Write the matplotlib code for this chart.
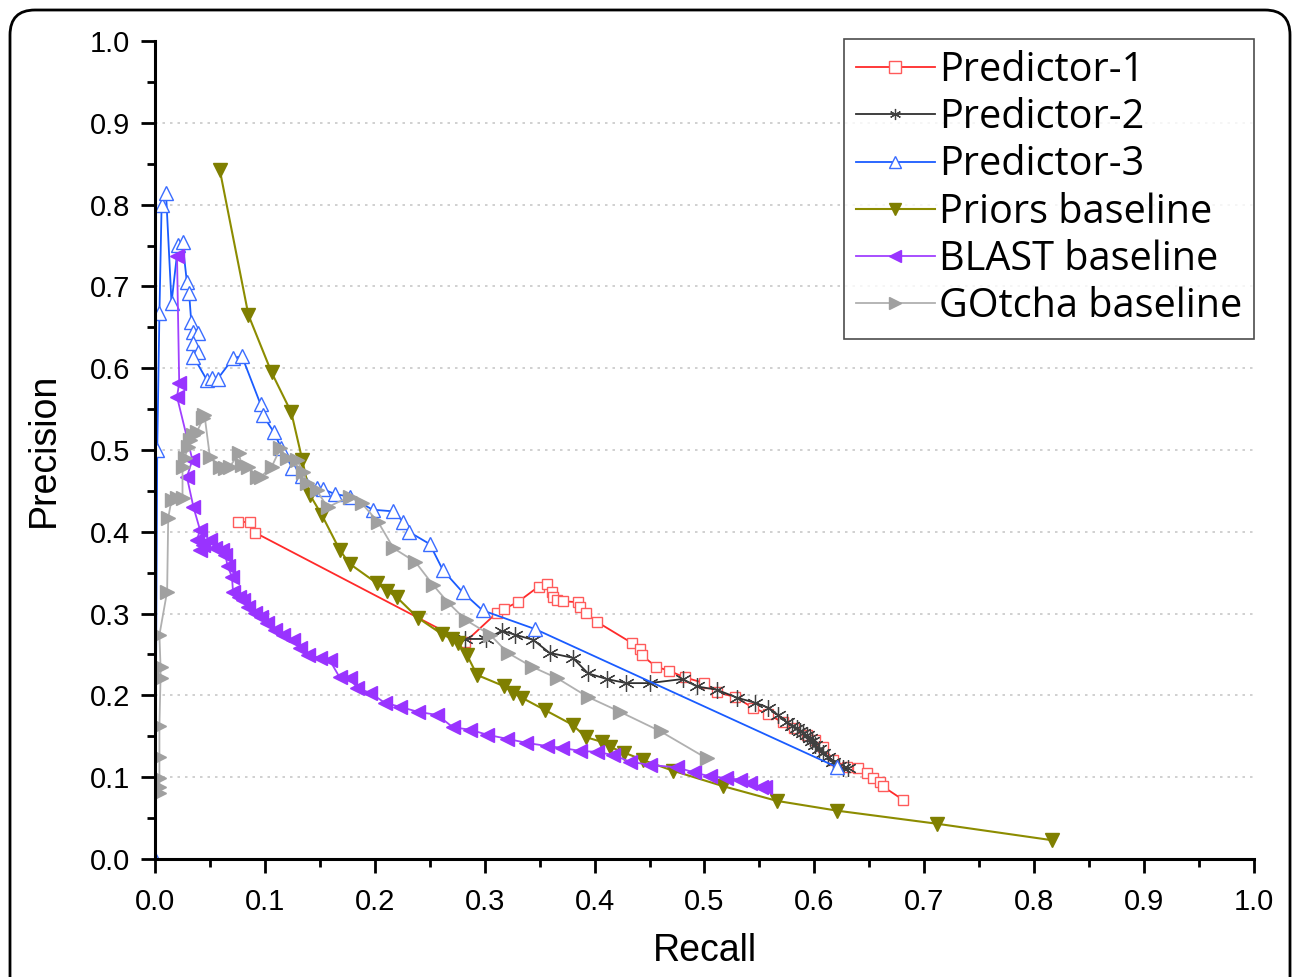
import matplotlib
matplotlib.use('Agg')
import matplotlib.pyplot as plt
import matplotlib.patches as mpatches
import numpy as np

# values (recall, precision)
pred1_recall = [0.0755, 0.086, 0.091, 0.282, 0.311, 0.318, 0.330, 0.349, 0.357, 0.361, 0.362, 0.366,
                0.371, 0.385, 0.387, 0.392, 0.402, 0.434, 0.441, 0.443, 0.456, 0.468, 0.482, 0.500,
                0.511, 0.528, 0.544, 0.558, 0.571, 0.581, 0.593, 0.601, 0.608, 0.617, 0.630, 0.640,
                0.648, 0.653, 0.660, 0.662, 0.681]
pred1_precision = [0.412, 0.412, 0.399, 0.265, 0.301, 0.306, 0.314, 0.333, 0.336, 0.326, 0.320, 0.317,
                   0.315, 0.314, 0.308, 0.301, 0.290, 0.264, 0.257, 0.249, 0.235, 0.230, 0.222, 0.215,
                   0.204, 0.198, 0.185, 0.177, 0.167, 0.160, 0.152, 0.145, 0.137, 0.121, 0.112, 0.111,
                   0.105, 0.099, 0.094, 0.089, 0.072]

pred2_recall = [0.282, 0.301, 0.316, 0.328, 0.344, 0.359, 0.380, 0.394, 0.411, 0.429, 0.450, 0.480,
                0.493, 0.511, 0.530, 0.546, 0.558, 0.567, 0.575, 0.580, 0.584, 0.587, 0.590, 0.593,
                0.596, 0.598, 0.601, 0.604, 0.608, 0.612, 0.617, 0.622, 0.626, 0.631]
pred2_precision = [0.269, 0.269, 0.279, 0.274, 0.268, 0.252, 0.246, 0.227, 0.220, 0.215, 0.215, 0.220,
                   0.211, 0.207, 0.197, 0.191, 0.185, 0.176, 0.167, 0.163, 0.160, 0.157, 0.154, 0.151,
                   0.148, 0.144, 0.139, 0.135, 0.130, 0.125, 0.119, 0.114, 0.111, 0.111]

pred3_recall = [0.0, 0.002, 0.004, 0.006, 0.010, 0.015, 0.021, 0.025, 0.029, 0.031, 0.033, 0.035,
                0.039, 0.035, 0.039, 0.035, 0.047, 0.052, 0.057, 0.071, 0.079, 0.096, 0.098, 0.108,
                0.115, 0.125, 0.134, 0.147, 0.153, 0.164, 0.177, 0.198, 0.217, 0.226, 0.231, 0.250,
                0.262, 0.280, 0.298, 0.346, 0.621]
pred3_precision = [0.0, 0.500, 0.667, 0.800, 0.814, 0.680, 0.751, 0.754, 0.705, 0.692, 0.656, 0.644,
                   0.643, 0.631, 0.620, 0.614, 0.586, 0.588, 0.587, 0.612, 0.615, 0.556, 0.543, 0.522,
                   0.502, 0.478, 0.468, 0.454, 0.452, 0.446, 0.443, 0.427, 0.425, 0.412, 0.400, 0.385,
                   0.353, 0.326, 0.304, 0.281, 0.112]

priors_recall = [0.059, 0.085, 0.106, 0.124, 0.134, 0.141, 0.152, 0.168, 0.177, 0.202, 0.211, 0.220,
                 0.239, 0.261, 0.270, 0.276, 0.284, 0.293, 0.318, 0.326, 0.334, 0.355, 0.380, 0.392,
                 0.407, 0.414, 0.427, 0.444, 0.471, 0.517, 0.566, 0.621, 0.712, 0.816]
priors_precision = [0.842, 0.665, 0.595, 0.546, 0.488, 0.445, 0.420, 0.378, 0.361, 0.337, 0.328, 0.320,
                    0.295, 0.275, 0.269, 0.264, 0.249, 0.225, 0.211, 0.203, 0.197, 0.182, 0.164, 0.149,
                    0.143, 0.137, 0.130, 0.121, 0.108, 0.089, 0.071, 0.059, 0.043, 0.023]

blast_recall = [0.020, 0.022, 0.020, 0.034, 0.029, 0.035, 0.041, 0.038, 0.044, 0.050, 0.041, 0.055,
                0.061, 0.064, 0.066, 0.070, 0.071, 0.076, 0.080, 0.085, 0.091, 0.096, 0.102, 0.109,
                0.116, 0.126, 0.132, 0.139, 0.150, 0.159, 0.168, 0.177, 0.184, 0.196, 0.209, 0.223,
                0.239, 0.257, 0.271, 0.287, 0.302, 0.320, 0.338, 0.357, 0.370, 0.387, 0.402, 0.417,
                0.432, 0.450, 0.475, 0.490, 0.505, 0.520, 0.532, 0.541, 0.551, 0.555]
blast_precision = [0.737, 0.582, 0.565, 0.488, 0.467, 0.430, 0.402, 0.390, 0.384, 0.390, 0.378, 0.380,
                   0.378, 0.372, 0.358, 0.345, 0.326, 0.320, 0.317, 0.308, 0.301, 0.296, 0.289, 0.280,
                   0.274, 0.268, 0.258, 0.249, 0.246, 0.243, 0.222, 0.221, 0.209, 0.203, 0.191, 0.186,
                   0.180, 0.176, 0.161, 0.158, 0.152, 0.147, 0.142, 0.138, 0.136, 0.132, 0.131, 0.127,
                   0.119, 0.115, 0.112, 0.106, 0.101, 0.099, 0.097, 0.093, 0.088, 0.088]

gotcha_recall = [0.004, 0.004, 0.004, 0.004, 0.004, 0.005, 0.005, 0.004, 0.011, 0.012, 0.015, 0.020,
                 0.025, 0.025, 0.027, 0.030, 0.032, 0.035, 0.038, 0.044, 0.045, 0.050, 0.059, 0.064,
                 0.068, 0.076, 0.079, 0.085, 0.093, 0.096, 0.106, 0.114, 0.120, 0.129, 0.135, 0.138,
                 0.147, 0.157, 0.177, 0.188, 0.203, 0.217, 0.237, 0.253, 0.267, 0.283, 0.305, 0.321,
                 0.343, 0.366, 0.394, 0.423, 0.460, 0.502]
gotcha_precision = [0.081, 0.088, 0.099, 0.125, 0.163, 0.221, 0.235, 0.274, 0.327, 0.417, 0.439, 0.441,
                    0.441, 0.479, 0.490, 0.504, 0.512, 0.518, 0.522, 0.539, 0.543, 0.491, 0.479, 0.478,
                    0.479, 0.496, 0.482, 0.479, 0.467, 0.467, 0.479, 0.502, 0.490, 0.488, 0.473, 0.460,
                    0.451, 0.430, 0.443, 0.435, 0.412, 0.380, 0.363, 0.335, 0.313, 0.292, 0.274, 0.252,
                    0.235, 0.221, 0.198, 0.180, 0.156, 0.123]

ticks = [0.0, 0.1, 0.2, 0.3, 0.4, 0.5, 0.6, 0.7, 0.8, 0.9, 1.0]


def main():
    plt.rcParams['font.family'] = ['Liberation Sans', 'DejaVu Sans']
    fig = plt.figure(figsize=(12.93, 9.77), dpi=100)
    ax = fig.add_axes([0.1199, 0.1208, 0.8499, 0.8372])

    asterisk = (6, 2, 0)
    ax.plot(pred1_recall, pred1_precision, color='#ff2a2a', lw=1.3, marker='s', ms=7,
            mfc='white', mec='#ff5a5a', mew=1.0, label='Predictor-1')
    ax.plot(pred2_recall, pred2_precision, color='#303030', lw=1.3, marker=asterisk, ms=12,
            mec='#404040', mew=0.9, label='Predictor-2')
    ax.plot(pred3_recall, pred3_precision, color='#1a5cff', lw=1.3, marker='^', ms=10,
            mfc='white', mec='#3a6cff', mew=1.0, label='Predictor-3')
    ax.plot(priors_recall, priors_precision, color='#8c8c00', lw=1.5, marker='v', ms=10,
            mfc='#7f7f00', mec='#7f7f00', label='Priors baseline')
    ax.plot(blast_recall, blast_precision, color='#a040ff', lw=1.3, marker='<', ms=10,
            mfc='#9933ff', mec='#9933ff', label='BLAST baseline')
    ax.plot(gotcha_recall, gotcha_precision, color='#b0b0b0', lw=1.3, marker='>', ms=10,
            mfc='#a0a0a0', mec='#a0a0a0', label='GOtcha baseline')

    ax.set_xlim(0, 1.0)
    ax.set_ylim(0, 1.0)
    ax.set_xticks(ticks)
    ax.set_yticks(ticks)
    ax.set_xticks(np.arange(0.05, 1.0, 0.1), minor=True)
    ax.set_yticks(np.arange(0.05, 1.0, 0.1), minor=True)
    ax.set_xticklabels(['%.1f' % t for t in ticks], fontsize=21)
    ax.set_yticklabels(['%.1f' % t for t in ticks], fontsize=21)
    ax.tick_params(axis='x', which='major', direction='out', length=10, width=2, pad=11)
    ax.tick_params(axis='y', which='major', direction='out', length=10, width=2, pad=8)
    ax.tick_params(which='minor', direction='out', length=6, width=2)

    for y in ticks[1:-1]:
        ax.axhline(y, color='#c8c8c8', lw=1.2, ls=(0, (1.5, 3)), zorder=0)

    ax.spines['top'].set_visible(False)
    ax.spines['right'].set_visible(False)
    ax.spines['left'].set_linewidth(2.2)
    ax.spines['bottom'].set_linewidth(2.2)

    ax.set_xlabel('Recall', fontsize=27, labelpad=12)
    ax.set_ylabel('Precision', fontsize=27, labelpad=20)

    leg = ax.legend(loc='upper right', bbox_to_anchor=(1.0, 1.003), prop={'family': 'Open Sans', 'size': 28.5},
                    frameon=True, fancybox=False, handlelength=2.0, handletextpad=0.1,
                    labelspacing=0.17, borderpad=0.3, borderaxespad=0.0)
    leg.get_frame().set_edgecolor('#202020')
    leg.get_frame().set_linewidth(1.2)
    for h in leg.legend_handles:
        h.set_markersize(8)

    frame = mpatches.FancyBboxPatch((0.1, -0.4), 12.8, 10.07,
                                    boxstyle='round,pad=0,rounding_size=0.25',
                                    transform=fig.dpi_scale_trans, fill=False,
                                    edgecolor='black', lw=2)
    fig.patches.append(frame)

    fig.savefig('out.png', dpi=100)


if __name__ == '__main__':
    main()
